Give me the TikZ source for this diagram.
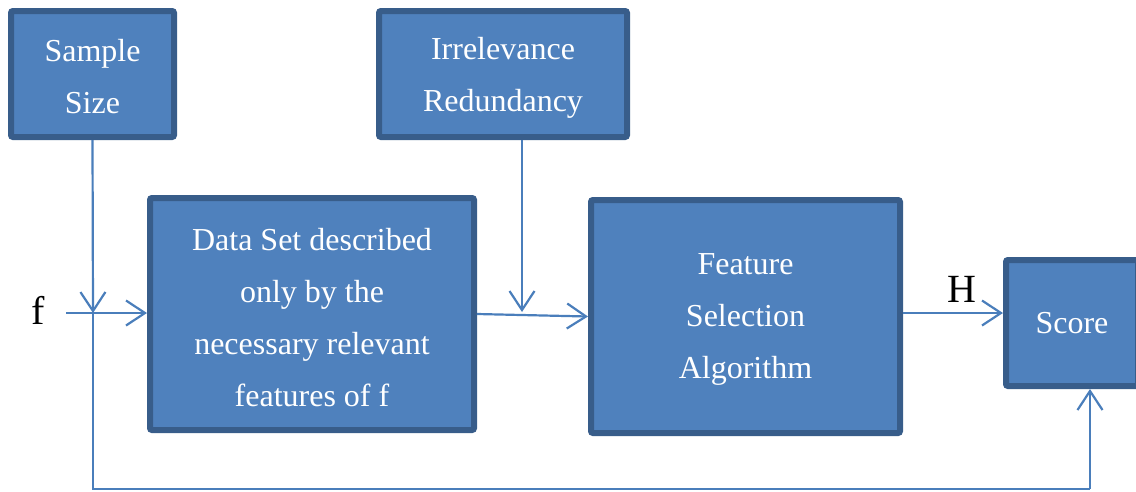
\documentclass[tikz,border=0pt]{standalone}
\usepackage{fontspec}
\setmainfont{Liberation Serif}
\usetikzlibrary{arrows.meta}
\definecolor{boxfill}{HTML}{4F81BD}
\definecolor{boxline}{HTML}{385D8A}
\definecolor{conn}{HTML}{4A7EBB}
\tikzset{
  blk/.style={draw=boxline, fill=boxfill, line width=6pt, rounded corners=2pt,
    inner sep=0pt},
  blktext/.style={text=white, align=center, inner sep=0pt, font=\fontsize{32}{52}\selectfont},
  conline/.style={draw=conn, line width=2.2pt},
  arr/.style={conline, -{Straight Barb[length=19pt,width=25pt,line width=2.2pt]}},
  lbl/.style={font=\fontsize{40}{48}\selectfont, text=black, inner sep=0pt}
}
\begin{document}
\begin{tikzpicture}[x=1pt,y=-1pt]
\useasboundingbox (0,0) rectangle (1136,491);
\begin{scope}
\clip (0,0) rectangle (1136,491);
\node[blk, minimum width=163pt, minimum height=126pt] (ss) at (92.5,74) {};
\node[blk, minimum width=248pt, minimum height=126pt] (ir) at (503,74) {};
\node[blk, minimum width=324pt, minimum height=232pt] (ds) at (312,314) {};
\node[blk, minimum width=309pt, minimum height=233pt] (fs) at (745.5,316.5) {};
\node[blk, minimum width=132pt, minimum height=126pt] (sc) at (1072,323) {};
\end{scope}
\node[blktext] (sst) at ([yshift=-3pt]ss.center) {Sample\\Size};
\node[blktext] (irt) at ([yshift=-4pt]ir.center) {Irrelevance\\Redundancy};
\node[blktext] (dst) at ([yshift=-4pt]ds.center) {Data Set described\\only by the\\necessary relevant\\features of f};
\node[blktext] (fst) at ([yshift=-3pt]fs.center) {Feature\\Selection\\Algorithm};
\node[blktext] (sct) at ([yshift=0pt]sc.center) {Score};

\node[lbl] (f) at (38,310) {f};
\node[lbl] (H) at (962,289) {H};

\coordinate (j1) at (93,313);
\coordinate (fstart) at (66,313);
\coordinate (c1) at (93,489);
\coordinate (c2) at (1090,489);
\coordinate (irx) at (522,312);
\coordinate (hy) at (950,313);

\draw[arr] (ss.south) -- (j1);
\draw[arr] (fstart) -- (fstart -| ds.west);
\draw[conline] (j1) -- (c1) -- (c2);
\draw[arr] (c2) -- (c2 |- sc.south);
\draw[arr] (ds.east) -- (fs.west);
\draw[arr] (irx |- ir.south) -- (irx);
\draw[arr] (hy -| fs.east) -- (hy -| sc.west);
\end{tikzpicture}
\end{document}
